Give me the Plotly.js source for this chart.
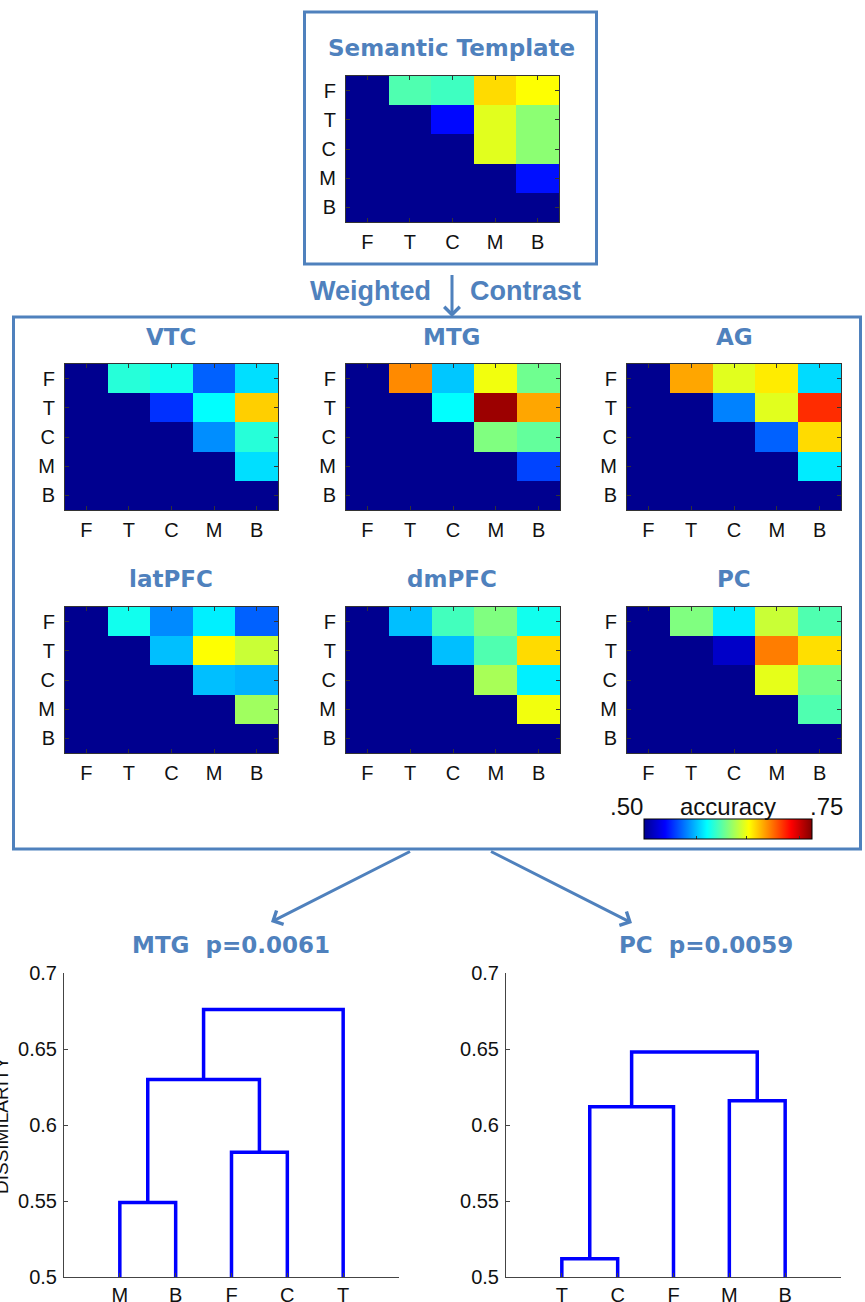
<!DOCTYPE html>
<html><head><meta charset="utf-8">
<script src="https://cdn.plot.ly/plotly-3.0.1.min.js"></script>
<style>html,body{margin:0;padding:0;background:#fff}</style>
</head><body><div id="chart" style="width:865px;height:1302px"></div>
<script>
// ---------- data ----------
const labels = ['F','T','C','M','B'];
// pairwise accuracy matrices, rows F..B, columns F..B (lower triangle = chance .50)
const semanticTemplate = [
  [0.50,0.613,0.609,0.665,0.656],
  [0.50,0.50,0.533,0.649,0.628],
  [0.50,0.50,0.50,0.649,0.628],
  [0.50,0.50,0.50,0.50,0.535],
  [0.50,0.50,0.50,0.50,0.50]];
const vtc = [
  [0.50,0.603,0.598,0.555,0.586],
  [0.50,0.50,0.543,0.594,0.668],
  [0.50,0.50,0.50,0.566,0.603],
  [0.50,0.50,0.50,0.50,0.586],
  [0.50,0.50,0.50,0.50,0.50]];
const mtg = [
  [0.50,0.685,0.580,0.653,0.621],
  [0.50,0.50,0.594,0.743,0.678],
  [0.50,0.50,0.50,0.625,0.618],
  [0.50,0.50,0.50,0.50,0.548],
  [0.50,0.50,0.50,0.50,0.50]];
const ag = [
  [0.50,0.678,0.649,0.661,0.585],
  [0.50,0.50,0.563,0.649,0.708],
  [0.50,0.50,0.50,0.555,0.665],
  [0.50,0.50,0.50,0.50,0.589],
  [0.50,0.50,0.50,0.50,0.50]];
const latPFC = [
  [0.50,0.598,0.565,0.590,0.555],
  [0.50,0.50,0.578,0.656,0.643],
  [0.50,0.50,0.50,0.578,0.575],
  [0.50,0.50,0.50,0.50,0.633],
  [0.50,0.50,0.50,0.50,0.50]];
const dmPFC = [
  [0.50,0.578,0.610,0.625,0.598],
  [0.50,0.50,0.578,0.613,0.665],
  [0.50,0.50,0.50,0.635,0.590],
  [0.50,0.50,0.50,0.50,0.653],
  [0.50,0.50,0.50,0.50,0.50]];
const pc = [
  [0.50,0.625,0.589,0.643,0.613],
  [0.50,0.50,0.516,0.688,0.664],
  [0.50,0.50,0.50,0.650,0.621],
  [0.50,0.50,0.50,0.50,0.613],
  [0.50,0.50,0.50,0.50,0.50]];
const panelTitles = ['VTC','MTG','AG','latPFC','dmPFC','PC'];
const accMin = 0.50, accMax = 0.75;

// dendrograms (leaf order, linkage: left child, right child, height)
const mtgLeafOrder = ['M','B','F','C','T'];
const mtgLinkLeft  = ['M','F','MB','MBFC'];
const mtgLinkRight = ['B','C','FC','T'];
const mtgLinkHeight = [0.549,0.582,0.630,0.676];
const pcLeafOrder = ['T','C','F','M','B'];
const pcLinkLeft  = ['T','TC','M','TCF'];
const pcLinkRight = ['C','F','B','MB'];
const pcLinkHeight = [0.512,0.612,0.616,0.648];
const dissimTicks = [0.5,0.55,0.6,0.65,0.7];
const dissimTickText = ['0.5','0.55','0.6','0.65','0.7'];

// ---------- helpers ----------
const W = 865, H = 1302;
const BLUE = '#4F81BD';
const dx = (a,b) => [a/W, b/W];
const dy = (t,b) => [1-b/H, 1-t/H];
const px = v => v/W, py = v => 1-v/H;

const jet = [[0,'rgb(0,0,143)'],[0.125,'rgb(0,0,255)'],[0.375,'rgb(0,255,255)'],
             [0.625,'rgb(255,255,0)'],[0.875,'rgb(255,0,0)'],[1,'rgb(128,0,0)']];

const data = [];
const layout = {
  width: W, height: H, margin:{l:0,r:0,t:0,b:0}, autosize:false,
  paper_bgcolor:'#fff', plot_bgcolor:'#fff', showlegend:false,
  annotations: [], shapes: []
};

const tickFont = {family:'Liberation Sans, Arial, sans-serif', size:20, color:'#111'};
function heatAxes(i, xd, yd){
  const xs = i===1 ? 'xaxis' : 'xaxis'+i, ys = i===1 ? 'yaxis' : 'yaxis'+i;
  layout[xs] = {domain:xd, anchor: i===1?'y':'y'+i, type:'category', categoryorder:'array', categoryarray:labels,
    range:[-0.5,4.5], showline:true, mirror:'ticks', linecolor:'#333', linewidth:1,
    ticks:'inside', ticklen:4, tickcolor:'#333', showgrid:false, zeroline:false,
    tickfont:tickFont, ticklabelstandoff:2, fixedrange:true};
  layout[ys] = {domain:yd, anchor: i===1?'x':'x'+i, type:'category', categoryorder:'array', categoryarray:labels,
    range:[4.5,-0.5], showline:true, mirror:'ticks', linecolor:'#333', linewidth:1,
    ticks:'inside', ticklen:4, tickcolor:'#333', showgrid:false, zeroline:false,
    tickfont:tickFont, ticklabelstandoff:5, fixedrange:true};
}
function heat(i, z, showscale){
  const t = {type:'heatmap', z:z, x:labels, y:labels, colorscale:jet, zmin:accMin, zmax:accMax,
    xaxis: i===1?'x':'x'+i, yaxis: i===1?'y':'y'+i, showscale:!!showscale, hoverinfo:'skip'};
  if (showscale) {
    t.colorbar = {orientation:'h', x:px(728), xanchor:'center', y:py(819), yanchor:'top',
      len:168, lenmode:'pixels', thickness:20, thicknessmode:'pixels',
      outlinewidth:1, outlinecolor:'#000', xpad:0, ypad:0,
      tickvals:[0.578,0.653,0.731], ticks:'inside', ticklen:3, tickcolor:'#333', showticklabels:false};
  }
  data.push(t);
}

// template
heatAxes(1, dx(346,559), dy(76,222)); heat(1, semanticTemplate);
// six regions
const cols = [[65,278],[346,560],[627,841]];
const rows = [[364,510],[607,753]];
const mats = [vtc, mtg, ag, latPFC, dmPFC, pc];
const titleX = [171,452,734];
const titleY = [337,579];
mats.forEach((m,k)=>{
  const i = k+2, c = cols[k%3], r = rows[Math.floor(k/3)];
  heatAxes(i, dx(c[0],c[1]), dy(r[0],r[1]));
  heat(i, m, k===5);
  layout.annotations.push({xref:'paper',yref:'paper',x:px(titleX[k%3]),y:py(titleY[Math.floor(k/3)]),
    text:panelTitles[k], showarrow:false, xanchor:'center', yanchor:'middle',
    font:{family:'DejaVu Sans', size:23, color:BLUE, weight:700}});
});

// dendrograms
function dendro(i, order, L, R, Hgt, xd, yd){
  const pos = {}, ht = {};
  order.forEach((l,k)=>{pos[l]=k+1; ht[l]=0;});
  const xs=[], ys=[];
  for (let k=0;k<L.length;k++){
    const a=L[k], b=R[k], h=Hgt[k];
    xs.push(pos[a],pos[a],pos[b],pos[b],null);
    ys.push(ht[a],h,h,ht[b],null);
    pos[a+b]=(pos[a]+pos[b])/2; ht[a+b]=h;
  }
  data.push({type:'scatter', mode:'lines', x:xs, y:ys, xaxis:'x'+i, yaxis:'y'+i,
    line:{color:'#0000ff', width:3.5}, hoverinfo:'skip', connectgaps:false});
  const dfont = {family:'Liberation Sans, Arial, sans-serif', size:20, color:'#111'};
  layout['xaxis'+i] = {domain:xd, anchor:'y'+i, range:[0,6], tickvals:[1,2,3,4,5], ticktext:order,
    showline:true, linecolor:'#444', linewidth:1, ticks:'inside', ticklen:4, tickcolor:'#444',
    showgrid:false, zeroline:false, tickfont:dfont, ticklabelstandoff:0, fixedrange:true};
  layout['yaxis'+i] = {domain:yd, anchor:'x'+i, range:[0.5,0.7], tickvals:dissimTicks, ticktext:dissimTickText,
    showline:true, linecolor:'#444', linewidth:1, ticks:'inside', ticklen:4, tickcolor:'#444',
    showgrid:false, zeroline:false, tickfont:dfont, ticklabelstandoff:2, fixedrange:true};
}
dendro(8, mtgLeafOrder, mtgLinkLeft, mtgLinkRight, mtgLinkHeight, dx(64,399), dy(973,1277));
dendro(9, pcLeafOrder, pcLinkLeft, pcLinkRight, pcLinkHeight, dx(506,841), dy(973,1277));

// titles and texts
const A = layout.annotations;
const txt = (x,y,text,font,extra) => A.push(Object.assign({xref:'paper',yref:'paper',x:px(x),y:py(y),text:text,
  showarrow:false,xanchor:'center',yanchor:'middle',font:font},extra||{}));
const boldBlue = {family:'DejaVu Sans', size:23, color:BLUE, weight:700};
txt(452,48,'Semantic Template',boldBlue);
const wc = {family:'Liberation Sans, Arial, sans-serif', size:27, color:BLUE, weight:700};
txt(370,291,'Weighted',wc);
txt(525,291,'Contrast',wc);
txt(231,945,'MTG\u00a0\u00a0p=0.0061',boldBlue);
txt(706,945,'PC\u00a0\u00a0p=0.0059',boldBlue);
const cbf = {family:'Liberation Sans, Arial, sans-serif', size:24, color:'#111'};
txt(626,806,'.50',cbf);
txt(728,806,'accuracy',cbf);
txt(826,806,'.75',cbf);
txt(1,1125,'DISSIMILARITY',{family:'Liberation Sans, Arial, sans-serif', size:19, color:'#111'},{textangle:-90});

// frames
const S = layout.shapes;
S.push({type:'rect',xref:'paper',yref:'paper',x0:px(304.5),x1:px(596.5),y0:py(12),y1:py(264),line:{color:BLUE,width:3}});
S.push({type:'rect',xref:'paper',yref:'paper',x0:px(13.5),x1:px(860.5),y0:py(317),y1:py(849),line:{color:BLUE,width:3}});

// arrows
const arrow = (tx,ty,sx,sy) => A.push({xref:'paper',yref:'paper',x:px(tx),y:py(ty),ax:sx-tx,ay:sy-ty,
  axref:'pixel',ayref:'pixel',text:' ',showarrow:true,arrowhead:4,arrowsize:1,arrowwidth:3,arrowcolor:BLUE,standoff:0,startstandoff:0});
arrow(452,317,452,265);
arrow(271,922,413,850);
arrow(632,923,488,850);

Plotly.newPlot('chart', data, layout, {staticPlot:true, displayModeBar:false});
</script></body></html>
